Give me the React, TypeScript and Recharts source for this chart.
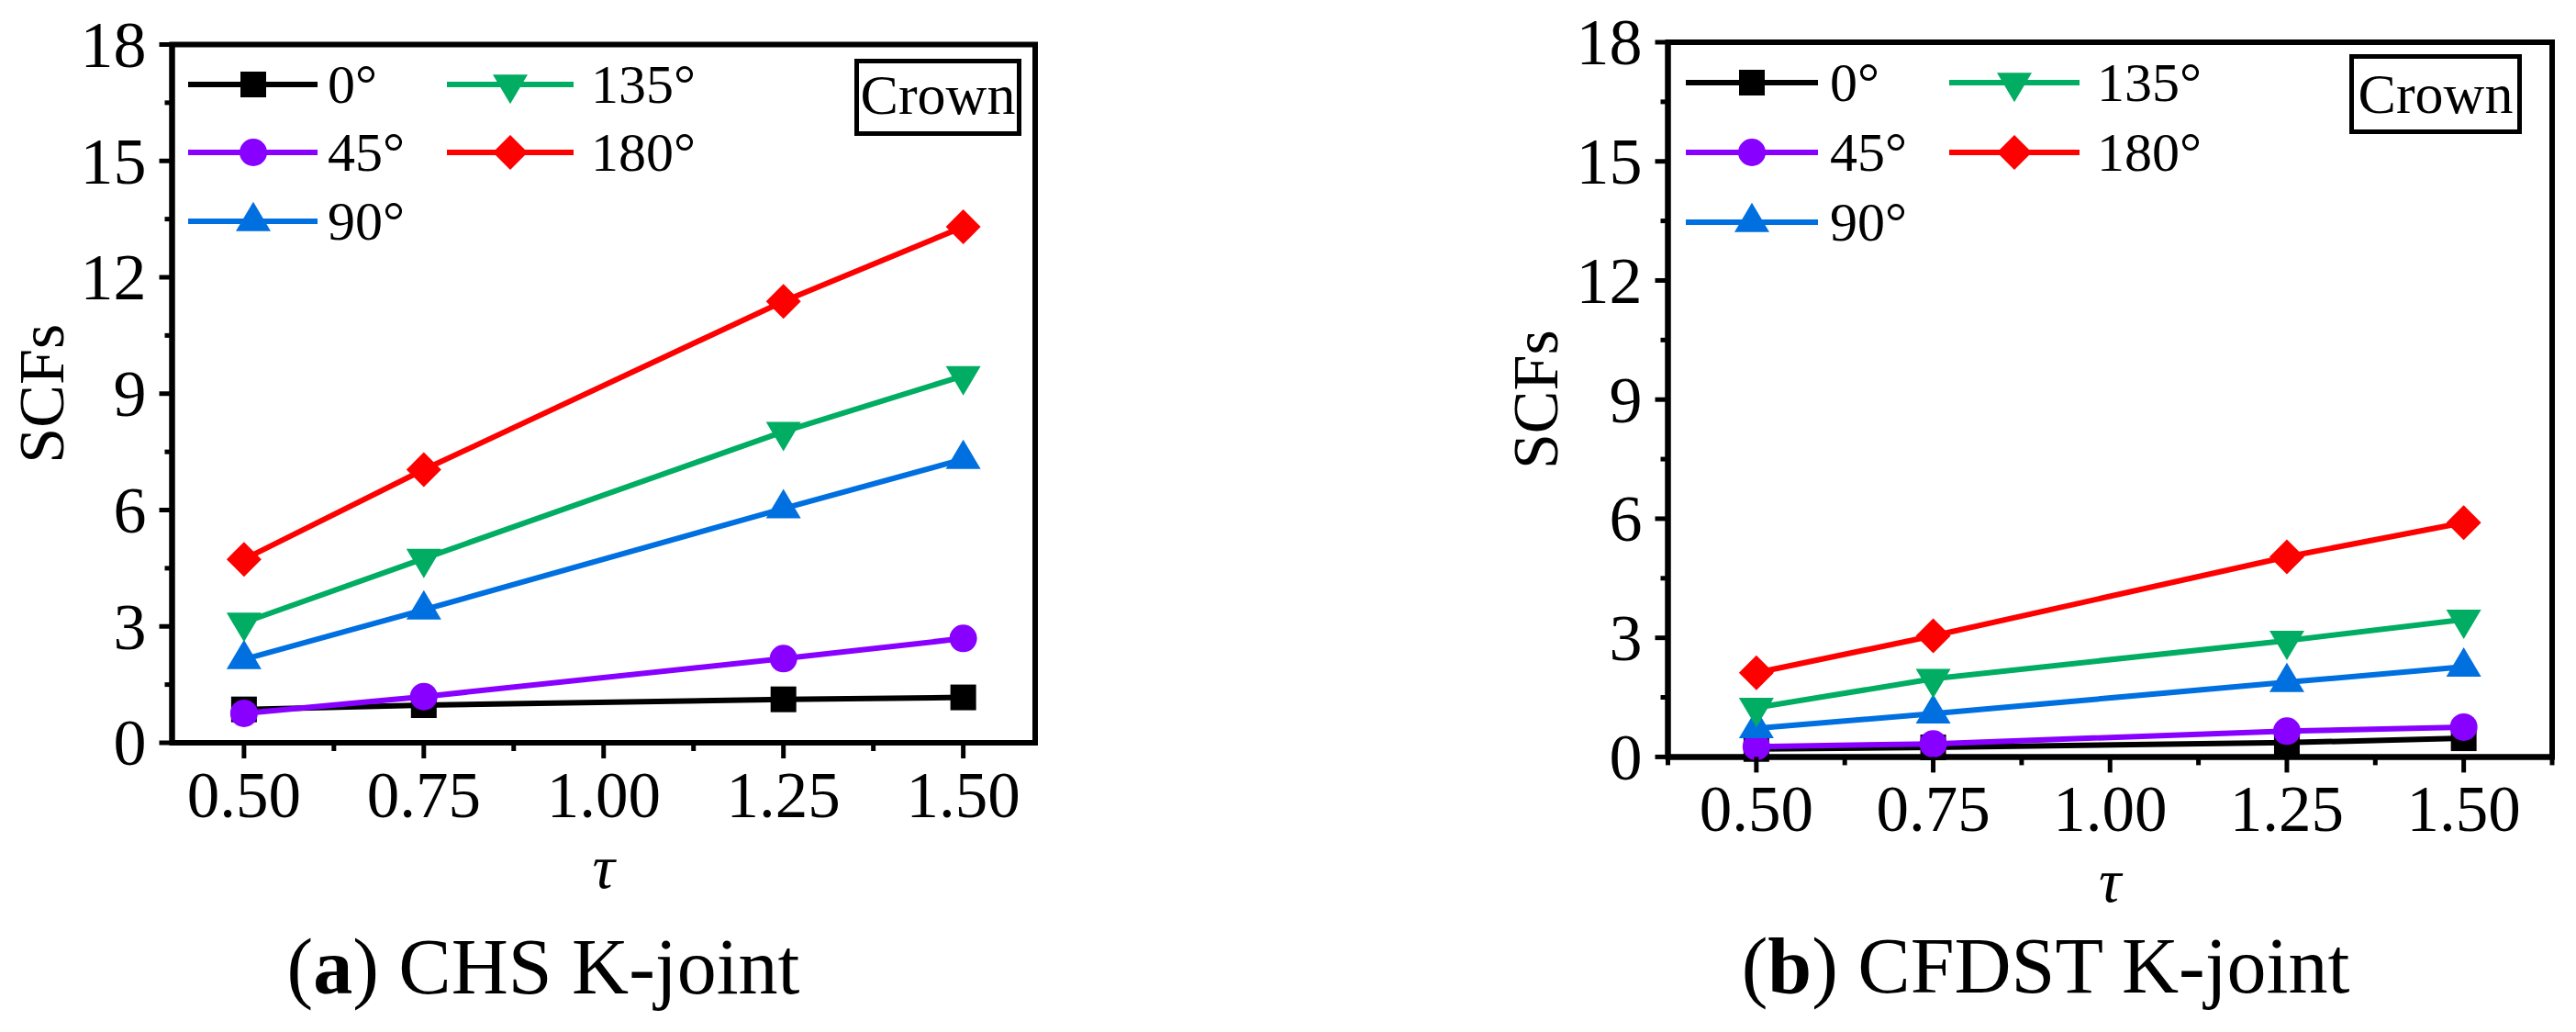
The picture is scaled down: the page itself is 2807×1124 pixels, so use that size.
import React from 'react';
import { LineChart, Line, XAxis, YAxis, Legend, ReferenceArea } from 'recharts';

const FONT = "'Liberation Serif', 'Times New Roman', serif";

// tau values (x) and SCFs
const tau = [0.5, 0.75, 1.25, 1.5];

const chs0 = [0.86, 0.97, 1.12, 1.17];
const chs45 = [0.76, 1.19, 2.17, 2.69];
const chs90 = [2.15, 3.43, 6.04, 7.31];
const chs135 = [3.1, 4.75, 8.02, 9.46];
const chs180 = [4.73, 7.04, 11.38, 13.3];

const cfdst0 = [0.2, 0.24, 0.36, 0.47];
const cfdst45 = [0.26, 0.33, 0.65, 0.75];
const cfdst90 = [0.72, 1.09, 1.88, 2.27];
const cfdst135 = [1.24, 1.97, 2.93, 3.46];
const cfdst180 = [2.12, 3.05, 5.04, 5.9];

const angleNames = ['0°', '45°', '90°', '135°', '180°'];
const yTicks = [0, 1.5, 3, 4.5, 6, 7.5, 9, 10.5, 12, 13.5, 15, 16.5, 18];
const xTicksA = [0.5, 0.625, 0.75, 0.875, 1.0, 1.125, 1.25, 1.375, 1.5];
const xTicksB = [0.375, 0.5, 0.625, 0.75, 0.875, 1.0, 1.125, 1.25, 1.375, 1.5, 1.625];

type Shape = 'square' | 'circle' | 'triUp' | 'triDown' | 'diamond';

const seriesStyle: { key: string; color: string; shape: Shape }[] = [
  { key: 'd0', color: '#000000', shape: 'square' },
  { key: 'd45', color: '#8800FF', shape: 'circle' },
  { key: 'd90', color: '#0070E0', shape: 'triUp' },
  { key: 'd135', color: '#00AD62', shape: 'triDown' },
  { key: 'd180', color: '#FF0000', shape: 'diamond' },
];

function Marker({ cx, cy, shape, color }: { cx: number; cy: number; shape: Shape; color: string }) {
  if (cx == null || cy == null) return null;
  const w = 19;
  const h = 32;
  switch (shape) {
    case 'square':
      return <rect x={cx - 14} y={cy - 14} width={28} height={28} fill={color} />;
    case 'circle':
      return <circle cx={cx} cy={cy} r={15} fill={color} />;
    case 'triUp':
      return (
        <polygon
          points={`${cx},${cy - (2 * h) / 3} ${cx - w},${cy + h / 3} ${cx + w},${cy + h / 3}`}
          fill={color}
        />
      );
    case 'triDown':
      return (
        <polygon
          points={`${cx},${cy + (2 * h) / 3} ${cx - w},${cy - h / 3} ${cx + w},${cy - h / 3}`}
          fill={color}
        />
      );
    default:
      return (
        <polygon
          points={`${cx},${cy - 19} ${cx + 19},${cy} ${cx},${cy + 19} ${cx - 19},${cy}`}
          fill={color}
        />
      );
  }
}

const isMajorX = (v: number) => Math.abs(v * 4 - Math.round(v * 4)) < 1e-6;
const isMajorY = (v: number) => Math.abs(v / 3 - Math.round(v / 3)) < 1e-6;

function XTick(props: any) {
  const { x, y, payload } = props;
  const major = isMajorX(payload.value);
  return (
    <g>
      <line x1={x} y1={y} x2={x} y2={y + (major ? 17 : 9)} stroke="#000" strokeWidth={5} />
      {major && (
        <text x={x} y={y + 81} textAnchor="middle" fontSize={71} fontFamily={FONT} fill="#000">
          {payload.value.toFixed(2)}
        </text>
      )}
    </g>
  );
}

function YTick(props: any) {
  const { x, y, payload } = props;
  const major = isMajorY(payload.value);
  return (
    <g>
      <line x1={x} y1={y} x2={x - (major ? 14 : 8)} y2={y} stroke="#000" strokeWidth={5} />
      {major && (
        <text x={x - 28} y={y} dy="0.34em" textAnchor="end" fontSize={72} fontFamily={FONT} fill="#000">
          {payload.value}
        </text>
      )}
    </g>
  );
}

type LegendCol = { x1: number; x2: number; m: number; t: number };

type PanelCfg = {
  left: number;
  width: number;
  margin: { top: number; right: number; bottom: number; left: number };
  yAxisWidth: number;
  xDomain: [number, number];
  xTicks: number[];
  yLabelX: number;
  values: number[][];
  legend: { left: number; top: number; rows: number[]; cols: LegendCol[] };
};

function LegendBox({ cfg }: { cfg: PanelCfg['legend'] }) {
  return (
    <svg width={620} height={230} style={{ display: 'block', overflow: 'visible' }}>
      {seriesStyle.map((s, i) => {
        const col = cfg.cols[i < 3 ? 0 : 1];
        const ry = cfg.rows[i < 3 ? i : i - 3];
        return (
          <g key={s.key}>
            <line x1={col.x1} y1={ry} x2={col.x2} y2={ry} stroke={s.color} strokeWidth={6} />
            <Marker cx={col.m} cy={ry} shape={s.shape} color={s.color} />
            <text x={col.t} y={ry} dy="0.34em" fontSize={60} fontFamily={FONT} fill="#000">
              {angleNames[i]}
            </text>
          </g>
        );
      })}
    </svg>
  );
}

function Panel({ cfg }: { cfg: PanelCfg }) {
  const data = tau.map((t, i) => ({
    tau: t,
    d0: cfg.values[0][i],
    d45: cfg.values[1][i],
    d90: cfg.values[2][i],
    d135: cfg.values[3][i],
    d180: cfg.values[4][i],
  }));

  return (
    <div style={{ position: 'absolute', left: cfg.left, top: 0 }}>
      <LineChart width={cfg.width} height={1124} data={data} margin={cfg.margin}>
        <ReferenceArea
          x1={cfg.xDomain[0]}
          x2={cfg.xDomain[1]}
          y1={0}
          y2={18}
          fill="none"
          stroke="#000"
          strokeWidth={6}
          ifOverflow="visible"
        />
        <XAxis
          dataKey="tau"
          type="number"
          domain={cfg.xDomain}
          ticks={cfg.xTicks}
          interval={0}
          height={200}
          tickSize={0}
          tickMargin={0}
          tickLine={false}
          axisLine={{ stroke: '#000', strokeWidth: 6 }}
          tick={<XTick />}
          label={{
            content: (p: any) => (
              <text
                x={p.viewBox.x + p.viewBox.width / 2}
                y={p.viewBox.y + 158}
                textAnchor="middle"
                fontSize={68}
                fontStyle="italic"
                fontFamily={FONT}
                fill="#000"
              >
                τ
              </text>
            ),
          }}
        />
        <YAxis
          type="number"
          domain={[0, 18]}
          ticks={yTicks}
          interval={0}
          width={cfg.yAxisWidth}
          tickSize={0}
          tickMargin={0}
          tickLine={false}
          axisLine={{ stroke: '#000', strokeWidth: 6 }}
          tick={<YTick />}
          label={{
            content: (p: any) => {
              const cx = p.viewBox.x + cfg.yLabelX;
              const cy = p.viewBox.y + p.viewBox.height / 2;
              return (
                <text
                  transform={`translate(${cx},${cy}) rotate(-90)`}
                  x={0}
                  y={0}
                  dy="0.34em"
                  textAnchor="middle"
                  fontSize={70}
                  fontFamily={FONT}
                  fill="#000"
                >
                  SCFs
                </text>
              );
            },
          }}
        />
        <Legend
          layout="horizontal"
          verticalAlign="middle"
          align="center"
          wrapperStyle={{ left: cfg.legend.left, top: cfg.legend.top, width: 620, height: 230 }}
          content={() => <LegendBox cfg={cfg.legend} />}
        />
        {seriesStyle.map((s, i) => (
          <Line
            key={s.key}
            dataKey={s.key}
            name={angleNames[i]}
            type="linear"
            stroke={s.color}
            strokeWidth={6}
            isAnimationActive={false}
            activeDot={false}
            dot={(p: any) => (
              <Marker key={`${s.key}-${p.index}`} cx={p.cx} cy={p.cy} shape={s.shape} color={s.color} />
            )}
          />
        ))}
      </LineChart>
    </div>
  );
}

const panelA: PanelCfg = {
  left: 0,
  width: 1200,
  margin: { top: 48.5, right: 72, bottom: 115, left: 0 },
  yAxisWidth: 187.5,
  xDomain: [0.4, 1.6],
  xTicks: xTicksA,
  yLabelX: 45,
  values: [chs0, chs45, chs90, chs135, chs180],
  legend: {
    left: 200,
    top: 50,
    rows: [42, 116, 191],
    cols: [
      { x1: 5, x2: 146, m: 76, t: 157 },
      { x1: 287, x2: 425, m: 356, t: 444 },
    ],
  },
};

const panelB: PanelCfg = {
  left: 1500,
  width: 1307,
  margin: { top: 46, right: 26, bottom: 99.6, left: 0 },
  yAxisWidth: 317.5,
  xDomain: [0.375, 1.625],
  xTicks: xTicksB,
  yLabelX: 173,
  values: [cfdst0, cfdst45, cfdst90, cfdst135, cfdst180],
  legend: {
    left: 330,
    top: 48,
    rows: [42, 118, 194],
    cols: [
      { x1: 7, x2: 151, m: 79, t: 164 },
      { x1: 294, x2: 436, m: 365, t: 455 },
    ],
  },
};

export default function App() {
  return (
    <div
      style={{
        position: 'absolute',
        left: 0,
        top: 0,
        width: 2807,
        height: 1124,
        background: '#fff',
        overflow: 'hidden',
        fontFamily: FONT,
      }}
    >
      <Panel cfg={panelA} />
      <Panel cfg={panelB} />
      <svg
        width={2807}
        height={1124}
        style={{ position: 'absolute', left: 0, top: 0, pointerEvents: 'none' }}
      >
        <rect x={933.5} y={66.5} width={177} height={79} fill="#fff" stroke="#000" strokeWidth={5} />
        <text x={1022} y={124} textAnchor="middle" fontSize={62} fontFamily={FONT}>
          Crown
        </text>
        <rect x={2562.5} y={61.5} width={183} height={82} fill="#fff" stroke="#000" strokeWidth={5} />
        <text x={2654} y={123} textAnchor="middle" fontSize={62} fontFamily={FONT}>
          Crown
        </text>
        <text x={592} y={1082} textAnchor="middle" fontSize={86} fontFamily={FONT}>
          (<tspan fontWeight="bold">a</tspan>) CHS K-joint
        </text>
        <text x={2229} y={1081} textAnchor="middle" fontSize={86} fontFamily={FONT}>
          (<tspan fontWeight="bold">b</tspan>) CFDST K-joint
        </text>
      </svg>
    </div>
  );
}
